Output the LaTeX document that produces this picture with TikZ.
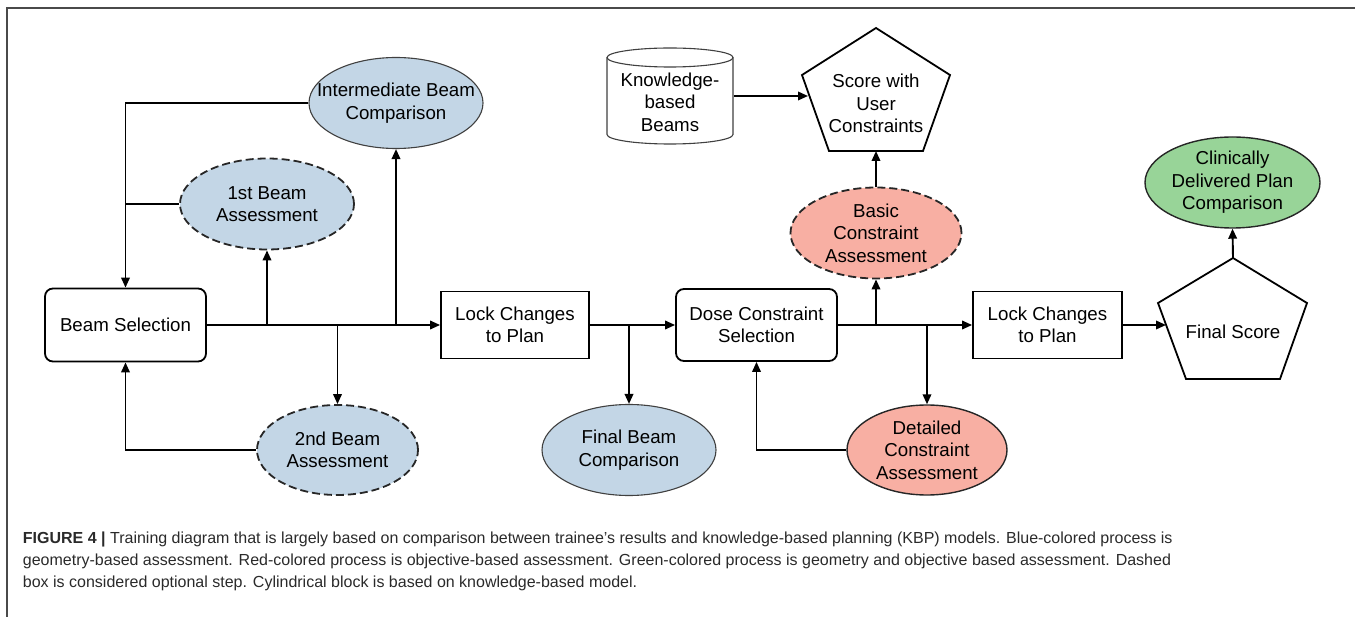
\documentclass[tikz,border=0pt]{standalone}
\usepackage{fontspec}
\setmainfont{Liberation Sans}
\usetikzlibrary{shapes.geometric,arrows.meta,calc,backgrounds}
\definecolor{bluef}{HTML}{C3D6E6}
\definecolor{redf}{HTML}{F8AFA3}
\definecolor{greenf}{HTML}{98D498}
\definecolor{framec}{HTML}{4A4A4A}
\definecolor{capc}{HTML}{2A2A2A}
\begin{document}
\begin{tikzpicture}[x=1pt,y=-1pt,
  font=\fontsize{18.7}{22.6}\selectfont,
  line width=1.9pt,
  arr/.style={-{Triangle[length=10pt,width=8.5pt]}},
  box/.style={draw, line width=1.8pt, inner sep=0pt, align=center},
  rbox/.style={box, rounded corners=8pt},
  ell/.style={ellipse, inner sep=0pt, align=center, draw=black!75, line width=1.1pt},
  dell/.style={ellipse, inner sep=0pt, align=center, draw=black!85, line width=1.8pt, dash pattern=on 8pt off 4pt},
  penta/.style={draw, line width=1.8pt, line join=miter},
  cyl/.style={draw=black!75, line width=1.1pt, fill=white},
]
\useasboundingbox (0,0) rectangle (1355,617);
% frame
\draw[framec, line width=1.8pt] (7,617) -- (7,8) -- (1355,8);

% boxes
\node[rbox, minimum width=161, minimum height=73] (bs) at (125.5,325) {Beam Selection};
\node[box, minimum width=148, minimum height=67] (l1) at (515,325) {Lock Changes\\to Plan};
\node[rbox, minimum width=161, minimum height=72] (dc) at (756.5,325) {Dose Constraint\\Selection};
\node[box, minimum width=149, minimum height=67] (l2) at (1047.5,325) {Lock Changes\\to Plan};

% ellipses
\node[ell, fill=bluef, minimum width=174, minimum height=91, inner xsep=-20pt] (ib) at (396,103) {Intermediate Beam\\Comparison};
\node[dell, fill=bluef, minimum width=174, minimum height=91] (b1) at (267,204) {1st Beam\\Assessment};
\node[dell, fill=bluef, minimum width=161, minimum height=90] (b2) at (337.5,450) {2nd Beam\\Assessment};
\node[ell, fill=bluef, minimum width=174, minimum height=91] (fb) at (629,450) {Final Beam\\Comparison};
\node[ell, fill=redf, draw=black!85, line width=1.4pt, minimum width=160, minimum height=90] (dt) at (927,450) {Detailed\\Constraint\\Assessment};
\node[dell, fill=redf, minimum width=171, minimum height=91] (ba) at (876,233) {Basic\\Constraint\\Assessment};
\node[ell, fill=greenf, draw=black!85, line width=1.4pt, minimum width=175, minimum height=91] (cl) at (1232.5,182.5) {Clinically\\Delivered Plan\\Comparison};

% cylinder
\node[align=center, inner sep=0pt, minimum width=126, minimum height=96] (kb) at (670,102) {Knowledge-\\based\\Beams};
\begin{scope}[on background layer]
\draw[cyl, shift={(kb.center)}] (-63,-44.5) -- (-63,32.5) arc[start angle=180, end angle=360, x radius=63pt, y radius=9.5pt] -- (63,-44.5);
\draw[cyl, shift={(kb.center)}] (0,-44.5) ellipse [x radius=63pt, y radius=9.5pt];
\end{scope}

% pentagons
\node[align=center, inner sep=0pt] (scu) at (876,103.5) {Score with\\User\\Constraints};
\draw[penta, shift={(scu.center)}] (0,-75.5) -- (74,-28.5) -- (47,47.5) -- (-47,47.5) -- (-74,-28.5) -- cycle;
\coordinate (scubot) at (876,151);
\coordinate (scuin) at (808,96);

\node[inner sep=0pt] (fs) at (1233,332) {Final Score};
\draw[penta, shift={(fs.center)}] (0,-74) -- (74,-29) -- (47,47) -- (-47,47) -- (-75,-29) -- cycle;
\coordinate (fstop) at (1233,258);
\coordinate (fsin) at (1166,325);

% connectors
\draw[arr] (bs.east) -- (l1.west);
\draw[arr] (bs.east -| b1.south) -- (b1.south);
\draw[arr] (bs.east -| ib.south) -- (ib.south);
\draw[arr] (bs.east -| b2.north) -- (b2.north);
\draw[arr] (ib.west) -| (bs.north);
\draw (b1.west) -- (b1.west -| bs.north);
\draw[arr] (b2.west) -| (bs.south);
\draw[arr] (l1.east) -- (dc.west);
\draw[arr] (l1.east -| fb.north) -- (fb.north);
\draw[arr] (dc.east) -- (l2.west);
\draw[arr] (dc.east -| ba.south) -- (ba.south);
\draw[arr] (dc.east -| dt.north) -- (dt.north);
\draw[arr] (dt.west) -| (dc.south);
\draw[arr] (ba.north) -- (scubot);
\draw[arr] ([yshift=6pt]kb.east) -- (scuin);
\draw[arr] (l2.east) -- (fsin);
\draw[arr] (fstop) -- (cl.south);

% caption
\node[anchor=north west, align=left, inner sep=0pt, text=capc,
      font=\fontsize{16}{22}\selectfont] (cap) at (22,531)
  {\textbf{FIGURE 4 |} Training diagram that is largely based on comparison between trainee's results and knowledge-based planning (KBP) models. Blue-colored process is\\
   geometry-based assessment. Red-colored process is objective-based assessment. Green-colored process is geometry and objective based assessment. Dashed\\
   box is considered optional step. Cylindrical block is based on knowledge-based model.};
\end{tikzpicture}
\end{document}
